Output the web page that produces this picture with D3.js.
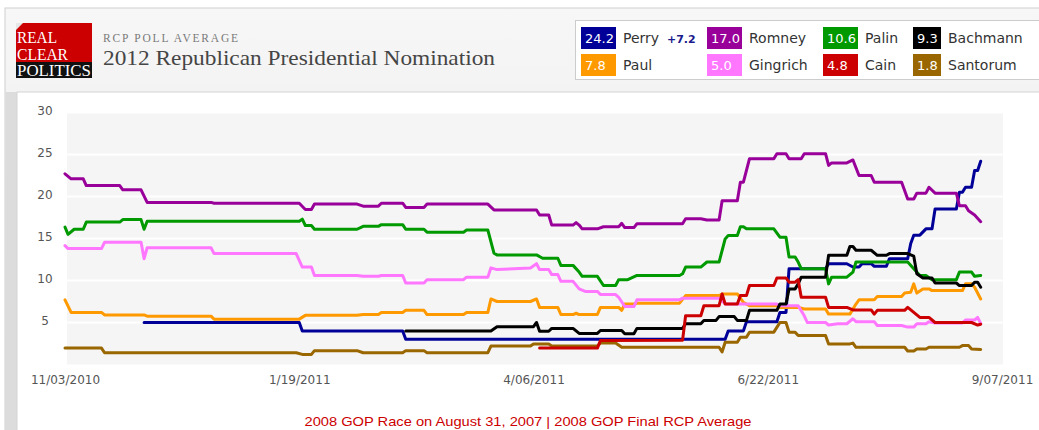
<!DOCTYPE html>
<html>
<head>
<meta charset="utf-8">
<script src="https://cdn.jsdelivr.net/npm/d3@7"></script>
<style>
  html, body { margin: 0; padding: 0; background: #ffffff; }
  svg { display: block; }
</style>
</head>
<body>
<svg id="chart" width="1039" height="430"></svg>
<script>
// ---------------- DATA ----------------
const startDate = "2010-11-03";
const endDate = "2011-09-07";
const xTickDates = ["2010-11-03", "2011-01-19", "2011-04-06", "2011-06-22", "2011-09-07"];
const yTickValues = [5, 10, 15, 20, 25, 30];

const candidates = ["Perry", "Romney", "Palin", "Bachmann", "Paul", "Gingrich", "Cain", "Santorum"];
const latestValues = [24.2, 17.0, 10.6, 9.3, 7.8, 5.0, 4.8, 1.8];
const colors = ["#000099", "#990099", "#009900", "#000000", "#ff9900", "#ff77ff", "#cc0000", "#996600"];
const perryChange = "+7.2";

// [days since 11/03/2010, poll average]
const perry = [[26,5.0],[77,5.0],[78,4.0],[111,4.0],[112,3.0],[217,3.0],[218,4.0],[223,4.0],[224,5.1],[234,5.1],[235,6.2],[237,6.2],[238,11.4],[250,11.4],[251,12.0],[257,12.0],[259,11.6],[261,11.6],[262,12.0],[265,12.0],[266,11.7],[270,11.7],[271,12.6],[277,12.6],[278,14.4],[279,15.4],[281,15.4],[283,16.15],[285,16.15],[286,18.5],[293,18.5],[294,20.5],[295,20.5],[296,21.1],[298,21.1],[299,23.1],[300,23.1],[301,24.2]];
const romney = [[0,22.7],[2,22.1],[6,22.1],[7,21.3],[18,21.3],[19,20.8],[25,20.8],[27,19.3],[48,19.3],[49,19.2],[77,19.2],[79,18.45],[81,18.45],[82,19.1],[96,19.1],[98,18.85],[103,18.85],[104,19.2],[111,19.2],[112,18.7],[118,18.7],[119,19.1],[139,19.1],[141,18.4],[155,18.4],[156,17.8],[159,17.8],[160,16.6],[167,16.6],[168,16.9],[169,16.6],[170,16.15],[175,16.15],[177,16.4],[182,16.4],[183,16.8],[184,16.3],[187,16.3],[188,16.75],[203,16.75],[204,17.35],[209,17.35],[211,17.2],[215,17.2],[216,19.5],[221,19.5],[222,21.7],[223,21.7],[225,24.5],[233,24.5],[234,25.1],[237,25.1],[238,24.5],[242,24.5],[243,25.1],[250,25.1],[251,23.7],[252,24.0],[257,24.0],[259,24.35],[261,22.5],[265,22.5],[266,21.7],[275,21.7],[277,19.7],[279,19.7],[280,20.4],[283,20.4],[284,21.1],[286,20.4],[293,20.4],[294,18.9],[296,18.9],[297,18.3],[299,17.8],[301,17.0]];
const palin = [[0,16.35],[1,15.5],[3,16.1],[6,16.1],[7,16.95],[18,16.95],[19,17.25],[25,17.25],[26,16.1],[27,17.05],[77,17.05],[78,17.3],[79,16.55],[81,16.55],[82,16.1],[96,16.1],[98,16.45],[103,16.45],[104,16.65],[111,16.65],[112,16.1],[118,16.1],[119,15.75],[131,15.75],[132,16.0],[139,16.0],[141,13.25],[142,13.05],[155,13.05],[157,12.65],[162,12.65],[163,11.8],[167,11.8],[169,11.0],[170,10.5],[175,10.5],[177,9.4],[181,9.4],[182,10.1],[185,10.1],[188,10.6],[202,10.6],[203,10.8],[204,11.6],[209,11.6],[211,12.2],[215,12.2],[217,14.95],[218,15.35],[221,15.35],[222,16.4],[223,16.4],[224,16.15],[233,16.15],[235,15.15],[237,15.15],[238,12.8],[240,12.8],[241,12.2],[242,11.4],[250,11.4],[251,9.6],[252,10.4],[257,10.4],[259,11.0],[260,12.2],[277,12.2],[279,11.4],[281,10.6],[283,10.6],[285,10.1],[293,10.1],[294,11.0],[298,11.0],[299,10.5],[301,10.6]];
const bachmann = [[112,4.0],[140,4.0],[142,4.5],[154,4.5],[155,5.0],[156,3.96],[159,3.96],[160,4.3],[167,4.3],[169,3.7],[175,3.7],[176,4.05],[183,4.05],[184,3.65],[187,3.65],[188,4.3],[203,4.3],[204,4.85],[209,4.85],[210,5.25],[214,5.25],[215,5.7],[220,5.7],[221,5.25],[224,5.25],[225,6.45],[234,6.45],[235,7.2],[237,7.2],[238,9.0],[240,9.0],[241,9.6],[242,10.4],[250,10.4],[251,13.0],[257,13.0],[258,14.05],[259,14.05],[260,13.6],[265,13.6],[267,13.0],[270,13.0],[271,13.2],[277,13.2],[279,12.9],[280,10.8],[282,10.3],[285,10.3],[286,9.7],[293,9.7],[294,9.4],[298,9.4],[299,9.8],[300,9.8],[301,9.2]];
const paul = [[0,7.7],[2,6.2],[12,6.2],[13,5.9],[26,5.9],[27,5.75],[48,5.75],[49,5.4],[77,5.4],[79,5.85],[96,5.85],[98,5.95],[103,5.95],[104,6.2],[111,6.2],[112,6.45],[118,6.45],[119,5.95],[131,5.95],[132,6.2],[139,6.2],[140,7.8],[142,7.5],[153,7.5],[155,7.8],[156,6.8],[162,6.8],[163,5.95],[167,5.95],[168,6.1],[169,5.95],[175,5.95],[176,6.8],[182,6.8],[183,6.45],[184,7.2],[187,7.2],[188,7.3],[202,7.3],[204,8.2],[215,8.2],[216,8.4],[221,8.4],[223,7.4],[225,7.0],[234,7.0],[235,6.8],[241,6.8],[243,6.6],[250,6.6],[251,6.0],[258,6.0],[260,7.2],[261,7.7],[266,7.7],[267,8.1],[275,8.1],[276,8.5],[278,8.6],[279,9.6],[280,8.5],[282,9.0],[284,9.0],[285,8.8],[295,8.8],[296,9.6],[298,9.6],[299,9.2],[301,7.8]];
const gingrich = [[0,14.15],[1,13.8],[12,13.8],[13,14.55],[25,14.55],[26,12.6],[27,13.9],[48,13.9],[49,13.2],[76,13.2],[78,11.6],[81,11.6],[82,10.6],[96,10.6],[98,10.5],[103,10.5],[104,10.6],[111,10.6],[112,9.7],[118,9.7],[119,10.1],[131,10.1],[132,10.4],[139,10.4],[140,11.5],[142,11.3],[153,11.5],[155,12.0],[156,11.3],[159,11.3],[160,10.7],[162,10.7],[163,9.9],[167,9.9],[169,9.0],[171,8.7],[175,8.7],[176,8.33],[181,8.33],[182,8.0],[184,6.9],[187,6.9],[188,7.7],[202,7.7],[203,7.9],[215,7.9],[217,7.2],[234,7.2],[235,7.0],[241,7.0],[243,5.8],[244,5.0],[250,5.0],[251,4.7],[254,4.85],[257,4.85],[259,5.45],[260,5.1],[266,5.1],[267,4.65],[275,4.65],[277,4.45],[279,4.45],[280,4.85],[283,4.85],[284,5.1],[286,4.95],[295,4.95],[296,5.3],[299,5.3],[300,5.6],[301,4.9]];
const cain = [[156,1.95],[175,1.95],[176,2.85],[203,2.9],[204,5.8],[209,5.8],[210,7.0],[215,7.0],[216,8.4],[217,7.2],[221,7.2],[222,8.2],[224,8.2],[225,9.4],[233,9.4],[234,10.3],[237,10.3],[238,9.8],[240,9.8],[241,10.1],[242,8.0],[250,8.0],[251,6.8],[257,6.8],[259,6.5],[265,6.5],[266,6.0],[267,6.45],[276,6.45],[277,6.8],[279,6.2],[281,5.6],[284,5.6],[286,5.0],[298,5.0],[300,4.7],[301,4.8]];
const santorum = [[0,1.95],[12,1.95],[13,1.4],[76,1.4],[78,1.2],[81,1.2],[82,1.65],[96,1.65],[98,1.4],[111,1.4],[112,1.65],[118,1.65],[119,1.4],[139,1.4],[140,2.2],[153,2.2],[154,2.45],[159,2.45],[160,2.2],[175,2.2],[176,2.55],[181,2.55],[183,2.05],[215,2.05],[216,1.5],[217,2.65],[221,2.65],[222,3.25],[224,3.25],[225,3.85],[233,3.85],[235,5.0],[237,5.0],[238,3.85],[240,3.85],[241,3.45],[250,3.45],[251,2.45],[258,2.45],[259,2.55],[260,2.05],[276,2.05],[277,1.6],[279,1.6],[280,1.85],[283,1.85],[284,2.05],[294,2.05],[295,2.25],[297,2.25],[298,1.85],[301,1.8]];

const seriesByName = { Perry: perry, Romney: romney, Palin: palin, Bachmann: bachmann, Paul: paul, Gingrich: gingrich, Cain: cain, Santorum: santorum };
// drawing order (bottom to top)
const drawOrder = ["Santorum", "Perry", "Paul", "Gingrich", "Palin", "Romney", "Bachmann", "Cain"];

// ---------------- CHART ----------------
const svg = d3.select("#chart");
const parse = d3.timeParse("%Y-%m-%d");
const t0 = parse(startDate), t1 = parse(endDate);

const x = d3.scaleTime().domain([t0, t1]).range([65, 1002]);
const y = d3.scaleLinear().domain([0, 30]).range([364.5, 112.5]);

// page frame
const defs = svg.append("defs");
const grad = defs.append("linearGradient").attr("id", "hdr").attr("x1", 0).attr("y1", 0).attr("x2", 0).attr("y2", 1);
grad.append("stop").attr("offset", "0%").attr("stop-color", "#f7f7f7");
grad.append("stop").attr("offset", "100%").attr("stop-color", "#e3e3e3");

svg.append("rect").attr("x", 5).attr("y", 8).attr("width", 1040).attr("height", 430)
  .attr("fill", "url(#hdr)").attr("stroke", "#cfcfcf");
svg.append("rect").attr("x", 5.5).attr("y", 92).attr("width", 11.5).attr("height", 340).attr("fill", "#dcdcdc");
svg.append("rect").attr("x", 17).attr("y", 92).attr("width", 1030).attr("height", 340)
  .attr("fill", "#ffffff").attr("stroke", "#d4d4d4");

// logo
const logo = svg.append("g");
logo.append("rect").attr("x", 16).attr("y", 23).attr("width", 76).attr("height", 40).attr("fill", "#cc0000");
logo.append("rect").attr("x", 16).attr("y", 62).attr("width", 76).attr("height", 16).attr("fill", "#111111");
logo.append("path").attr("d", "M16,30 L23,23 L16,23 Z").attr("fill", "#e6e6e6");
const logoFont = "'Liberation Serif', 'DejaVu Serif', serif";
[["REAL", 43, 40], ["CLEAR", 59.5, 51], ["POLITICS", 76, 74]].forEach(([t, by, w]) => {
  logo.append("text").attr("x", 17).attr("y", by).text(t)
    .attr("font-family", logoFont).attr("font-size", 16).attr("fill", "#ffffff")
    .attr("textLength", w).attr("lengthAdjust", "spacingAndGlyphs");
});

// header titles
svg.append("text").attr("x", 103).attr("y", 42).text("RCP POLL AVERAGE")
  .attr("font-family", logoFont).attr("font-size", 11.5).attr("fill", "#7a7a7a")
  .attr("textLength", 135).attr("lengthAdjust", "spacing");
svg.append("text").attr("x", 103).attr("y", 65).text("2012 Republican Presidential Nomination")
  .attr("font-family", logoFont).attr("font-size", 22).attr("fill", "#454545")
  .attr("textLength", 392).attr("lengthAdjust", "spacingAndGlyphs");

// legend
const leg = svg.append("g");
leg.append("rect").attr("x", 575.5).attr("y", 20.5).attr("width", 480).attr("height", 59)
  .attr("fill", "#ffffff").attr("stroke", "#cccccc");
const colX = [581, 707, 823, 913];
const colW = [35, 35, 35, 28];
const rowY = [27, 54];
const sans = "'DejaVu Sans', Verdana, sans-serif";
candidates.forEach((name, i) => {
  const c = i % 4, r = Math.floor(i / 4);
  const g = leg.append("g");
  g.append("rect").attr("x", colX[c]).attr("y", rowY[r]).attr("width", colW[c]).attr("height", 22).attr("fill", colors[i]);
  g.append("text").attr("x", colX[c] + 4).attr("y", rowY[r] + 11).attr("dy", "0.36em")
    .text(latestValues[i].toFixed(1)).attr("font-family", sans).attr("font-size", 13).attr("fill", "#ffffff");
  const nx = colX[c] + colW[c] + 7;
  g.append("text").attr("x", nx).attr("y", rowY[r] + 11).attr("dy", "0.36em")
    .text(name).attr("font-family", sans).attr("font-size", 14).attr("fill", "#333333");
  if (name === "Perry") {
    g.append("text").attr("x", 667).attr("y", rowY[r] + 12).attr("dy", "0.36em")
      .text(perryChange).attr("font-family", sans).attr("font-size", 11).attr("font-weight", "bold").attr("fill", "#1a1a8c");
  }
});

// plot background
svg.append("rect").attr("x", 67).attr("y", y(30)).attr("width", 1003 - 67).attr("height", y(0) - y(30)).attr("fill", "#f5f5f5");
svg.append("g").selectAll("line").data(yTickValues).join("line")
  .attr("x1", 67).attr("x2", 1003).attr("y1", d => y(d)).attr("y2", d => y(d))
  .attr("stroke", "#ffffff").attr("stroke-width", 2);

// axes
const yAxis = svg.append("g").attr("transform", "translate(45,-1.5)")
  .call(d3.axisLeft(y).tickValues(yTickValues).tickSize(0).tickPadding(0));
yAxis.select(".domain").remove();
yAxis.selectAll("text").attr("text-anchor", "middle").attr("font-family", sans).attr("font-size", 12).attr("fill", "#555555");

const fmt = d3.timeFormat("%-m/%d/%Y");
const xAxis = svg.append("g").attr("transform", "translate(0,375)")
  .call(d3.axisBottom(x).tickValues(xTickDates.map(parse)).tickFormat(fmt).tickSize(0).tickPadding(0));
xAxis.select(".domain").remove();
xAxis.selectAll("text").attr("font-family", sans).attr("font-size", 12).attr("fill", "#555555");

// lines
const line = d3.line()
  .x(d => x(d3.timeDay.offset(t0, d[0])))
  .y(d => y(d[1]));
const linesG = svg.append("g");
drawOrder.forEach(name => {
  const i = candidates.indexOf(name);
  linesG.append("path").datum(seriesByName[name]).attr("d", line)
    .attr("fill", "none").attr("stroke", colors[i]).attr("stroke-width", 3)
    .attr("stroke-linejoin", "round").attr("stroke-linecap", "round");
});

// footer
svg.append("text").attr("x", 528).attr("y", 426).attr("text-anchor", "middle")
  .text("2008 GOP Race on August 31, 2007 | 2008 GOP Final RCP Average")
  .attr("font-family", "'Liberation Sans Narrow', 'Liberation Sans', Arial, sans-serif").attr("font-size", 13).attr("fill", "#cc0000")
  .attr("textLength", 447).attr("lengthAdjust", "spacingAndGlyphs");
</script>
</body>
</html>
